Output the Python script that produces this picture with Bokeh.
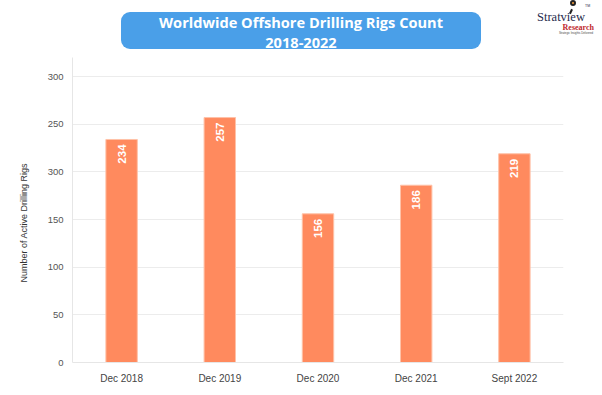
import math
from bokeh.plotting import figure
from bokeh.models import ColumnDataSource, Range1d, FixedTicker, Title, Div
from bokeh.layouts import column
from bokeh.core.properties import value
from bokeh.embed import file_html
from bokeh.resources import INLINE

# ---- data ----
categories = ["Dec 2018", "Dec 2019", "Dec 2020", "Dec 2021", "Sept 2022"]
rigs = [234, 257, 156, 186, 219]
bar_labels = ["234", "257", "156", "186", "219"]
tick_values = [0, 50, 100, 150, 200, 250, 300]
tick_labels = ["0", "50", "100", "150", "300", "250", "300"]
title_lines = ["Worldwide Offshore Drilling Rigs Count", "2018-2022"]
y_title = "Number of Active Drilling Rigs"
logo_lines = ["Stratview", "Research", "Strategic Insights Delivered"]

src = ColumnDataSource(dict(cat=categories, val=rigs, lab=bar_labels))

p = figure(x_range=categories, y_range=Range1d(0, 320), width=602, height=338,
           output_backend="svg", toolbar_location=None,
           min_border_left=72, min_border_right=39, min_border_top=0, min_border_bottom=33)
p.outline_line_color = None
p.background_fill_color = "white"
p.border_fill_color = "white"

p.vbar(x="cat", top="val", width=0.32, source=src, fill_color="#FF8A5E",
       line_color="#FFC2A8", line_width=1)

p.text(x="cat", y="val", text="lab", source=src, angle=math.pi / 2,
       text_align="right", text_baseline="middle", y_offset=5,
       text_color="white", text_font_style="bold", text_font_size="11.5px",
       text_font=value("Liberation Sans"))

# axes
p.yaxis.ticker = FixedTicker(ticks=tick_values)
p.yaxis.major_label_overrides = {v: l for v, l in zip(tick_values, tick_labels)}
for ax in (p.xaxis, p.yaxis):
    ax.major_tick_line_color = None
    ax.minor_tick_line_color = None
    ax.major_tick_out = 0
    ax.major_tick_in = 0
    ax.axis_line_color = "#e6e6e6"
    ax.major_label_text_font = "Liberation Sans"
    ax.major_label_text_color = "#555555"
p.yaxis.major_label_text_font_size = "9.5px"
p.xaxis.major_label_text_font_size = "10px"
p.yaxis.major_label_standoff = 9
p.xaxis.major_label_standoff = 10
p.xaxis.major_label_text_color = "#444444"
p.xgrid.grid_line_color = None
p.ygrid.grid_line_color = "#ececec"
p.ygrid.ticker = FixedTicker(ticks=tick_values)

# y axis title (side panel, not clipped)
p.add_layout(Title(text=y_title, align="left", offset=80, standoff=32,
                   text_font="Liberation Sans", text_font_size="9px",
                   text_font_style="normal", text_color="#333333"), "left")

header_html = f"""
<div style="position:relative;width:602px;height:57px;background:white;">
  <div style="position:absolute;left:121px;top:12px;width:360px;height:37px;padding-top:1px;
              background:#4A9FE8;border-radius:9px;color:white;
              font-family:'Open Sans';font-weight:bold;font-size:14.6px;
              line-height:19.5px;text-align:center;">{title_lines[0]}<br>{title_lines[1]}</div>
  <div style="position:absolute;left:570px;top:0px;width:6px;height:6px;border-radius:50%;
              background:#f39c3c;border:2px solid #222;"></div>
  <div style="position:absolute;left:570px;top:9px;width:2px;height:5px;background:#222;
              transform:rotate(25deg);"></div>
  <div style="position:absolute;left:537px;top:12px;text-align:left;
              font-family:'Liberation Serif';font-size:12.5px;line-height:11px;color:#1f2b4d;white-space:nowrap;">{logo_lines[0]}</div>
  <div style="position:absolute;left:585px;top:4px;font-family:'Liberation Sans';font-size:3.5px;line-height:4px;color:#1f2b4d;">TM</div>
  <div style="position:absolute;left:534px;top:24px;width:60px;text-align:right;white-space:nowrap;
              font-family:'Liberation Serif';font-weight:bold;font-size:8px;line-height:8px;color:#c0282d;">{logo_lines[1]}</div>
  <div style="position:absolute;left:533px;top:32px;width:60px;text-align:right;white-space:nowrap;
              font-family:'Liberation Sans';font-size:2.8px;line-height:3px;color:#444;">{logo_lines[2]}</div>
</div>
"""
header = Div(text=header_html, width=602, height=57, margin=0)

layout = column(header, p, spacing=0)
open("out.html", "w").write(file_html(layout, INLINE))
